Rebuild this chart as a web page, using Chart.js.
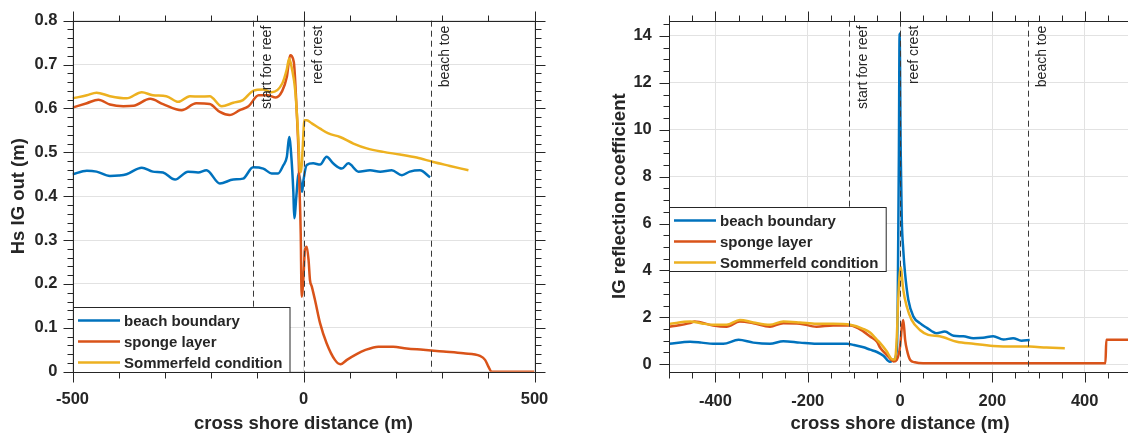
<!DOCTYPE html>
<html>
<head>
<meta charset="utf-8">
<script src="https://cdn.jsdelivr.net/npm/chart.js@4.4.1/dist/chart.umd.min.js"></script>
<style>
  html, body { margin: 0; padding: 0; background: #fff; overflow: hidden; width: 1128px; height: 436px; }
  canvas { position: absolute; top: 0; }
  #hsChart { left: 0; }
  #rcChart { left: 580px; }
</style>
</head>
<body>
<canvas id="hsChart" width="560" height="436"></canvas>
<canvas id="rcChart" width="560" height="436"></canvas>
<script>
// ---- series labels ----
const seriesLabels = ['beach boundary', 'sponge layer', 'Sommerfeld condition'];

// ---- Hs IG out (m) versus cross shore distance (m) ----
const hsBeachX = [-500, -469, -448, -419, -400, -383, -350, -326, -304, -278, -250, -228, -210, -181, -152, -131, -109, -87, -69, -55, -44, -36, -31, -27, -22, -20, -15, -11, -6, -3, 0, 7, 21, 36, 50, 64, 83, 97, 119, 144, 166, 191, 213, 230, 252, 274];
const hsBeachY = [0.450, 0.458, 0.456, 0.446, 0.447, 0.450, 0.465, 0.456, 0.454, 0.438, 0.456, 0.454, 0.459, 0.429, 0.438, 0.440, 0.466, 0.463, 0.452, 0.452, 0.470, 0.490, 0.535, 0.500, 0.410, 0.350, 0.406, 0.452, 0.429, 0.410, 0.437, 0.471, 0.475, 0.472, 0.490, 0.475, 0.463, 0.475, 0.456, 0.459, 0.456, 0.459, 0.448, 0.456, 0.459, 0.443];

const hsSpongeX = [-500, -469, -444, -419, -390, -368, -332, -304, -264, -232, -203, -181, -160, -138, -119, -97, -78, -60, -46, -36, -29, -21, -15, -11, -9, -6, -4, 0, 3, 7, 11, 14, 18, 25, 36, 50, 68, 80, 94, 115, 133, 162, 194, 223, 259, 303, 346, 382, 393, 400, 407, 500];
const hsSpongeY = [0.602, 0.612, 0.620, 0.609, 0.605, 0.606, 0.622, 0.610, 0.596, 0.612, 0.610, 0.592, 0.585, 0.596, 0.605, 0.630, 0.630, 0.625, 0.640, 0.672, 0.721, 0.706, 0.600, 0.505, 0.430, 0.315, 0.171, 0.216, 0.277, 0.285, 0.254, 0.209, 0.194, 0.163, 0.110, 0.065, 0.027, 0.017, 0.027, 0.040, 0.049, 0.057, 0.057, 0.053, 0.050, 0.046, 0.042, 0.036, 0.027, 0.012, 0.000, 0.000];

const hsSommerX = [-500, -469, -448, -419, -383, -350, -326, -297, -271, -246, -224, -203, -177, -152, -131, -109, -87, -69, -46, -36, -31, -25, -18, -11, -8, -5, -2, 2, 7, 18, 36, 54, 79, 108, 137, 173, 209, 245, 281, 317, 357];
const hsSommerY = [0.623, 0.630, 0.636, 0.628, 0.623, 0.637, 0.630, 0.628, 0.615, 0.628, 0.627, 0.628, 0.605, 0.613, 0.619, 0.640, 0.643, 0.637, 0.657, 0.690, 0.714, 0.690, 0.642, 0.528, 0.460, 0.455, 0.505, 0.573, 0.573, 0.566, 0.554, 0.543, 0.535, 0.520, 0.509, 0.501, 0.495, 0.488, 0.478, 0.469, 0.459];

// ---- IG reflection coefficient versus cross shore distance (m) ----
const rcBeachX = [-500, -455, -430, -405, -383, -350, -318, -282, -253, -217, -181, -152, -115, -100, -79, -65, -50, -36, -22, -14, -7, -5, -2.5, -1, 1.5, 3.7, 7, 10.8, 18, 29, 43, 58, 79, 97, 116, 137, 159, 180, 202, 224, 245, 263, 281];
const rcBeachY = [0.87, 0.96, 0.92, 0.87, 0.87, 1.04, 0.92, 0.87, 0.98, 0.92, 0.87, 0.87, 0.87, 0.82, 0.72, 0.62, 0.52, 0.36, 0.10, 0.18, 0.60, 2.70, 9.00, 14.10, 9.00, 6.20, 4.87, 3.88, 2.74, 2.03, 1.75, 1.55, 1.32, 1.39, 1.21, 1.19, 1.11, 1.13, 1.19, 1.05, 1.11, 1.00, 1.03];

const rcSpongeX = [-500, -455, -445, -405, -376, -347, -318, -282, -253, -217, -181, -145, -108, -79, -65, -50, -43, -29, -20, -14, -7, 0, 4, 7, 11, 15, 22, 32, 50, 445, 447, 500];
const rcSpongeY = [1.60, 1.75, 1.82, 1.65, 1.60, 1.82, 1.75, 1.60, 1.75, 1.73, 1.60, 1.65, 1.65, 1.39, 1.18, 0.96, 0.70, 0.40, 0.20, 0.12, 0.19, 0.75, 1.60, 1.89, 1.04, 0.60, 0.18, 0.08, 0.04, 0.04, 1.04, 1.04];

const rcSommerX = [-500, -455, -430, -405, -376, -347, -318, -282, -253, -217, -181, -145, -108, -79, -65, -50, -43, -29, -18, -11, -7, -4, 1.5, 4, 7, 14.5, 25, 43, 61, 86, 123, 159, 202, 245, 281, 317, 357];
const rcSommerY = [1.72, 1.82, 1.74, 1.68, 1.68, 1.89, 1.78, 1.68, 1.82, 1.78, 1.72, 1.72, 1.68, 1.50, 1.35, 1.04, 0.90, 0.55, 0.22, 0.20, 1.18, 2.74, 4.16, 3.74, 3.17, 2.46, 1.89, 1.46, 1.25, 1.19, 0.96, 0.87, 0.78, 0.75, 0.75, 0.71, 0.68];

// ---- reef zone markers ----
const markerX = [-110, 0, 277];
const markerLabels = ['start fore reef', 'reef crest', 'beach toe'];

// ---- tick values ----
const hsXTicks = [-500, 0, 500];
const hsYTicks = [0, 0.1, 0.2, 0.3, 0.4, 0.5, 0.6, 0.7, 0.8];
const rcXTicks = [-400, -200, 0, 200, 400];
const rcYTicks = [0, 2, 4, 6, 8, 10, 12, 14];

// ---- styling ----
const lineColors = ['#0072BD', '#D95319', '#EDB120'];
const ink = '#262626';
const gridColor = '#e2e2e2';
const FONT = "'Liberation Sans', Arial, Helvetica, sans-serif";

// Box, outward ticks on all four sides, dashed zone markers and the legend.
const framePlugin = {
  id: 'frame',
  afterDatasetsDraw(chart, args, opts) {
    const { ctx, chartArea: a } = chart;
    const xs = chart.scales.x;
    ctx.save();
    ctx.strokeStyle = '#3a3a3a';
    ctx.lineWidth = 1;
    ctx.setLineDash([6, 4]);
    markerX.forEach((v) => {
      const px = Math.round(xs.getPixelForValue(v)) + 0.5;
      ctx.beginPath();
      ctx.moveTo(px, a.top);
      ctx.lineTo(px, a.bottom);
      ctx.stroke();
    });
    ctx.setLineDash([]);
    ctx.fillStyle = ink;
    ctx.font = '14px ' + FONT;
    ctx.textAlign = 'right';
    ctx.textBaseline = 'alphabetic';
    markerX.forEach((v, i) => {
      const px = xs.getPixelForValue(v);
      ctx.save();
      ctx.translate(px + 18, a.top + 5);
      ctx.rotate(-Math.PI / 2);
      ctx.fillText(markerLabels[i], 0, 0);
      ctx.restore();
    });
    ctx.restore();
  },
  afterDraw(chart, args, opts) {
    const { ctx, chartArea: a } = chart;
    const xs = chart.scales.x, ys = chart.scales.y;
    ctx.save();
    ctx.strokeStyle = ink;
    ctx.lineWidth = 1;
    const L = Math.round(a.left) + 0.5, R = Math.round(a.right) + 0.5;
    const T = Math.round(a.top) + 0.5, B = Math.round(a.bottom) + 0.5;
    ctx.strokeRect(L, T, R - L, B - T);

    const steps = (min, max, step) => {
      const out = [];
      for (let k = Math.ceil(min / step - 1e-9); k * step <= max + 1e-9; k++) out.push(k * step);
      return out;
    };
    const isMajor = (list, v, step) => list.some(m => Math.abs(m - v) < step * 1e-3);
    ctx.beginPath();
    steps(xs.min, xs.max, opts.xMinor).forEach(v => {
      const px = Math.round(xs.getPixelForValue(v)) + 0.5;
      const len = isMajor(opts.xMajor, v, opts.xMinor) ? 10 : 6;
      ctx.moveTo(px, B); ctx.lineTo(px, B + len);
      ctx.moveTo(px, T); ctx.lineTo(px, T - len);
    });
    steps(ys.min, ys.max, opts.yMinor).forEach(v => {
      const py = Math.round(ys.getPixelForValue(v)) + 0.5;
      const len = isMajor(opts.yMajor, v, opts.yMinor) ? 10 : 6;
      ctx.moveTo(L, py); ctx.lineTo(L - len, py);
      ctx.moveTo(R, py); ctx.lineTo(R + len, py);
    });
    ctx.stroke();

    // legend
    const lg = opts.legend;
    const bx = Math.round(a.left) + 0.5;
    const by = Math.round(lg.anchor === 'bottom' ? a.bottom - lg.h : a.top + lg.dy) + 0.5;
    ctx.fillStyle = '#fff';
    ctx.fillRect(bx, by, lg.w, lg.h);
    ctx.strokeStyle = ink;
    ctx.strokeRect(bx, by, lg.w, lg.h);
    ctx.font = 'bold 15px ' + FONT;
    ctx.textAlign = 'left';
    ctx.textBaseline = 'middle';
    chart.data.datasets.forEach((d, i) => {
      const cy = by + 13 + 21 * i;
      ctx.strokeStyle = d.borderColor;
      ctx.lineWidth = 2.5;
      ctx.beginPath();
      ctx.moveTo(bx + 4.5, cy);
      ctx.lineTo(bx + 46.5, cy);
      ctx.stroke();
      ctx.fillStyle = ink;
      ctx.fillText(d.label, bx + 50.5, cy + 1);
    });
    ctx.restore();
  }
};

function buildChart(id, cfg) {
  const xsList = [cfg.beachX, cfg.spongeX, cfg.sommerX];
  const ysList = [cfg.beachY, cfg.spongeY, cfg.sommerY];
  const datasets = seriesLabels.map((label, i) => ({
    label,
    data: xsList[i].map((x, j) => ({ x, y: ysList[i][j] })),
    borderColor: lineColors[i],
    backgroundColor: lineColors[i],
    borderWidth: 2.5,
    pointRadius: 0,
    fill: false,
    cubicInterpolationMode: 'monotone',
    order: 3 - i
  }));
  return new Chart(document.getElementById(id), {
    type: 'line',
    data: { datasets },
    options: {
      responsive: false,
      animation: false,
      devicePixelRatio: 1,
      layout: { padding: cfg.padding },
      plugins: {
        legend: { display: false },
        tooltip: { enabled: false },
        frame: cfg.frame
      },
      scales: {
        x: {
          type: 'linear',
          min: cfg.xMin, max: cfg.xMax,
          afterBuildTicks: s => { s.ticks = cfg.xTicks.map(v => ({ value: v })); },
          afterFit: s => { s.height = cfg.xAxisHeight; },
          ticks: {
            callback: v => String(v),
            font: { family: FONT, size: 16.5, weight: 'bold' },
            color: ink, padding: 0, maxRotation: 0, minRotation: 0, autoSkip: false
          },
          grid: {
            display: cfg.xGrid, color: gridColor, lineWidth: 1,
            drawTicks: true, tickLength: cfg.xTickGap, tickColor: 'rgba(0,0,0,0)'
          },
          border: { display: false },
          title: {
            display: true, text: 'cross shore distance (m)',
            font: { family: FONT, size: 18.5, weight: 'bold', lineHeight: 1.2 },
            color: ink, padding: { top: 0, bottom: 1 }
          }
        },
        y: {
          type: 'linear',
          min: cfg.yMin, max: cfg.yMax,
          afterBuildTicks: s => { s.ticks = cfg.yTicks.map(v => ({ value: v })); },
          afterFit: s => { s.width = cfg.yAxisWidth; },
          ticks: {
            callback: v => String(v),
            font: { family: FONT, size: 16.5, weight: 'bold' },
            color: ink, padding: 0, autoSkip: false
          },
          grid: {
            color: gridColor, lineWidth: 1,
            drawTicks: true, tickLength: cfg.yTickGap, tickColor: 'rgba(0,0,0,0)'
          },
          border: { display: false },
          title: {
            display: true, text: cfg.yTitle,
            font: { family: FONT, size: 18.5, weight: 'bold', lineHeight: 1.2 },
            color: ink, padding: { top: cfg.yTitlePad, bottom: 0 }
          }
        }
      }
    },
    plugins: [framePlugin]
  });
}

buildChart('hsChart', {
  beachX: hsBeachX, beachY: hsBeachY,
  spongeX: hsSpongeX, spongeY: hsSpongeY,
  sommerX: hsSommerX, sommerY: hsSommerY,
  xMin: -500, xMax: 500, yMin: 0, yMax: 0.8,
  xTicks: hsXTicks, yTicks: hsYTicks,
  padding: { top: 20.7, right: 25.5, bottom: 0, left: 0 },
  xAxisHeight: 64.3, yAxisWidth: 72.5,
  xTickGap: 18, yTickGap: 15, yTitlePad: 8.2,
  xGrid: true,
  yTitle: 'Hs IG out (m)',
  frame: {
    xMinor: 100, yMinor: 0.02, xMajor: hsXTicks, yMajor: hsYTicks,
    legend: { anchor: 'bottom', w: 216.5, h: 65 }
  }
});

buildChart('rcChart', {
  beachX: rcBeachX, beachY: rcBeachY,
  spongeX: rcSpongeX, spongeY: rcSpongeY,
  sommerX: rcSommerX, sommerY: rcSommerY,
  xMin: -500, xMax: 500, yMin: -0.32, yMax: 14.65,
  xTicks: rcXTicks, yTicks: rcYTicks,
  padding: { top: 20.7, right: 9.2, bottom: 0, left: 0 },
  xAxisHeight: 64.3, yAxisWidth: 89.3,
  xTickGap: 19.5, yTickGap: 17.5, yTitlePad: 28.4,
  xGrid: true,
  yTitle: 'IG reflection coefficient',
  frame: {
    xMinor: 50, yMinor: 0.5, xMajor: rcXTicks, yMajor: rcYTicks,
    legend: { anchor: 'top', dy: 186.3, w: 216.7, h: 64 }
  }
});
</script>
</body>
</html>
